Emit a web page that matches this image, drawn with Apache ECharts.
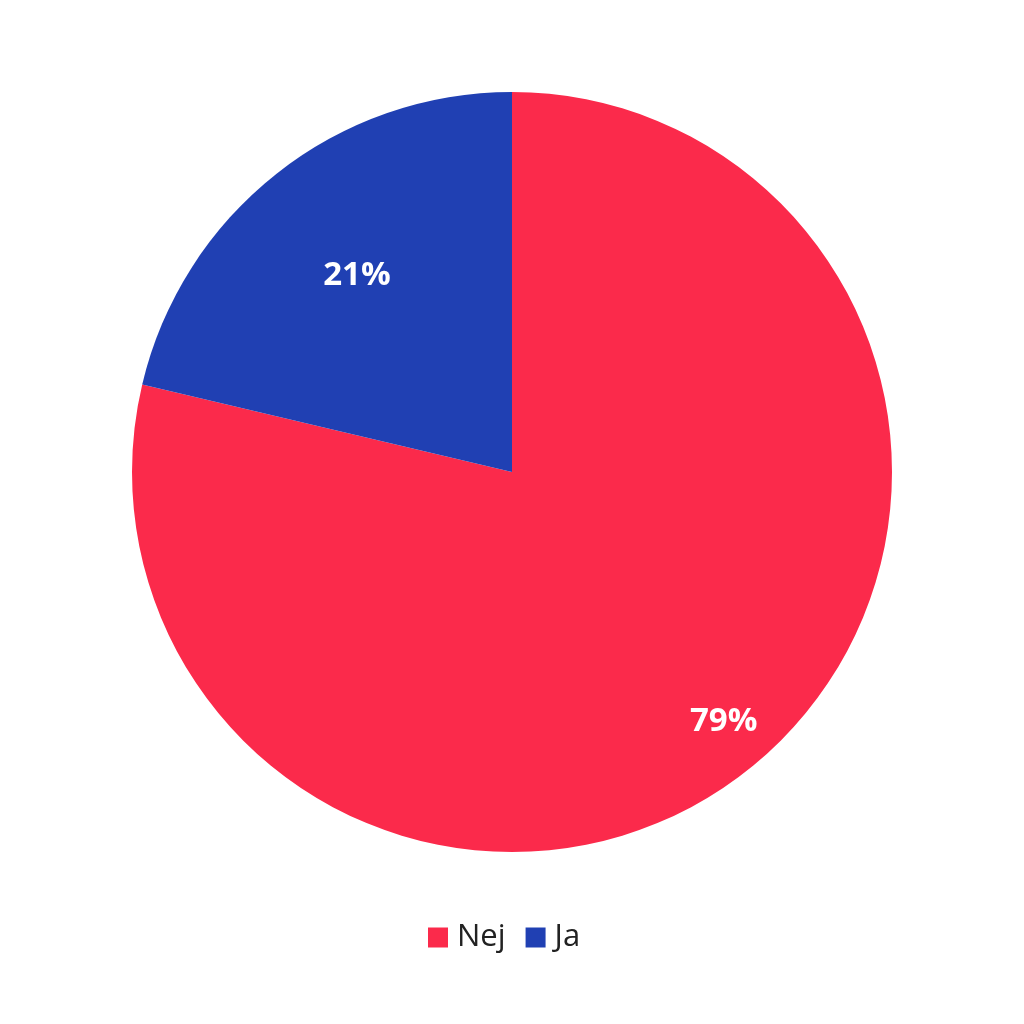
<!DOCTYPE html>
<html><head><meta charset="utf-8">
<script src="https://cdn.jsdelivr.net/npm/echarts@6/dist/echarts.min.js"></script>
<style>html,body{margin:0;padding:0;background:#fff}#c{width:1024px;height:1024px}</style>
</head><body><div id="c"></div>
<script>
const categories = ['Nej', 'Ja'];
const values = [78.7, 21.3];
const colors = ['#FB2A4B', '#2040B3'];

const chart = echarts.init(document.getElementById('c'));
const baseData = categories.map((n, i) => ({ name: n, value: values[i], itemStyle: { color: colors[i] } }));
function ghost(radius, startAngle, showIdx) {
  return {
    type: 'pie', radius: [0, radius], center: [512, 472], startAngle: startAngle, clockwise: true,
    silent: true, z: 5,
    itemStyle: { color: 'rgba(0,0,0,0)', borderWidth: 0 },
    label: { show: true, position: 'inside', formatter: p => Math.round(p.percent) + '%', color: '#fff', fontFamily: 'Open Sans', fontWeight: 'bold', fontSize: 33 },
    labelLine: { show: false },
    emphasis: { disabled: true },
    data: categories.map((n, i) => ({ name: n, value: values[i], label: { show: i === showIdx }, itemStyle: { color: 'rgba(0,0,0,0)' } }))
  };
}
chart.setOption({
  animation: false,
  legend: {
    bottom: 66, left: 423, itemWidth: 20, itemHeight: 20, itemGap: 20,
    icon: 'rect',
    textStyle: { fontFamily: 'Open Sans', fontSize: 31, color: '#222', padding: [0, 0, 0, 4] },
    data: categories
  },
  series: [
    {
      type: 'pie', radius: [0, 380], center: [512, 472], startAngle: 90, clockwise: true,
      itemStyle: { borderWidth: 0 },
      label: { show: false }, labelLine: { show: false },
      emphasis: { scale: false },
      data: baseData
    },
    ghost(648, 92, 0),
    ghost(494, 90, 1)
  ]
});
</script></body></html>
